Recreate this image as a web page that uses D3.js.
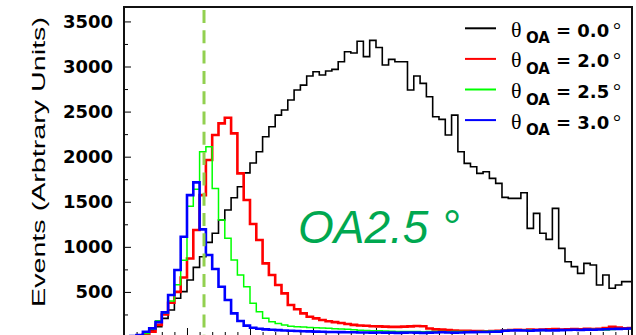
<!DOCTYPE html>
<html>
<head>
<meta charset="utf-8">
<script src="https://cdn.jsdelivr.net/npm/d3@7"></script>
<style>
  body { margin: 0; background: #fff; }
  svg { display: block; }
</style>
</head>
<body>
<svg width="636" height="335"></svg>
<script>
// histogram bins, 0.05 wide starting at 0
const binWidth = 0.05;

// events per bin for each off-axis angle
const oa00 = [0, 8, 20, 35, 70, 115, 207, 300, 429, 503,
  632, 772, 890, 1050, 1150, 1297, 1408, 1545, 1667, 1820,
  1930, 2055, 2221, 2332, 2461, 2517, 2628, 2739, 2794, 2894,
  2942, 2905, 2950, 2968, 3053, 3164, 3150, 3280, 3110, 3290,
  3210, 3016, 3079, 3053, 3053, 2739, 2894, 2813, 2665, 2443,
  2414, 2240, 2461, 2055, 1926, 1889, 1815, 1833, 1759, 1704,
  1549, 1537, 1537, 1600, 1205, 1371, 1150, 1083, 1427, 983,
  835, 780, 706, 817, 798, 577, 687, 540, 577, 614,
  614];
const oa20 = [0, 5, 15, 30, 60, 135, 250, 380, 500, 660,
  870, 1186, 1574, 1963, 2240, 2369, 2432, 2258, 1815, 1519,
  1253, 1075, 817, 687, 577, 484, 355, 307, 262, 225,
  207, 188, 175, 165, 155, 145, 135, 128, 125, 120,
  118, 115, 112, 112, 115, 118, 122, 120, 95, 85,
  82, 78, 72, 70, 68, 66, 65, 64, 66, 68,
  72, 78, 80, 78, 82, 80, 84, 86, 88, 84,
  86, 88, 85, 90, 88, 92, 98, 112, 104, 96,
  98];
const oa25 = [5, 10, 20, 40, 85, 180, 265, 400, 580, 850,
  1450, 1640, 2055, 2110, 1648, 1297, 1094, 854, 687, 558,
  373, 281, 207, 170, 150, 133, 120, 115, 110, 106,
  102, 100, 96, 92, 88, 85, 80, 76, 72, 70,
  68, 66, 64, 62, 62, 60, 60, 58, 60, 62,
  60, 58, 60, 62, 60, 58, 62, 64, 66, 68,
  72, 75, 74, 76, 78, 75, 72, 75, 78, 80,
  76, 74, 78, 80, 82, 80, 78, 82, 85, 86,
  88];
const oa30 = [5, 10, 22, 59, 96, 165, 273, 466, 743, 1112,
  1574, 1715, 1194, 909, 754, 558, 410, 262, 177, 126,
  103, 92, 85, 80, 76, 72, 70, 66, 64, 62,
  60, 58, 56, 55, 54, 52, 52, 50, 50, 48,
  50, 48, 48, 46, 48, 50, 48, 46, 48, 50,
  52, 50, 48, 50, 52, 54, 55, 56, 58, 60,
  70, 72, 74, 72, 70, 74, 76, 72, 74, 76,
  78, 80, 78, 82, 80, 84, 86, 88, 90, 92,
  94];

const angles = ['0.0', '2.0', '2.5', '3.0'];
const yTicks = [500, 1000, 1500, 2000, 2500, 3000, 3500];
const markerE = 0.635;   // dashed line, OA 2.5 deg peak
const note = 'OA2.5 \u00b0';

const series = [oa00, oa20, oa25, oa30];
const colors = ['#000000', '#ff0000', '#00ff00', '#0000ff'];
const widths = [1.6, 2.6, 1.5, 2.6];

const m = {left: 124, right: 632, top: 7, bottom: 337};
const x = d3.scaleLinear().domain([0, 4.032]).range([m.left, m.right]);
const y = d3.scaleLinear().domain([0, 3660]).range([m.bottom, m.top]);

const svg = d3.select('svg');

svg.append('defs').append('clipPath').attr('id', 'plot')
  .append('rect')
    .attr('x', m.left).attr('y', m.top)
    .attr('width', m.right - m.left).attr('height', m.bottom - m.top);

// axes ticks (inside the frame, ROOT style)
svg.append('g')
  .attr('transform', 'translate(' + m.left + ',0)')
  .call(d3.axisLeft(y).tickValues(d3.range(250, 3660, 500))
    .tickSizeInner(-4).tickSizeOuter(0).tickFormat(''))
  .call(g => g.select('.domain').remove());

const yAxis = svg.append('g')
  .attr('transform', 'translate(' + m.left + ',0)')
  .call(d3.axisLeft(y).tickValues(yTicks).tickFormat(d3.format('d'))
    .tickSizeInner(-7).tickSizeOuter(0).tickPadding(11))
  .call(g => g.select('.domain').remove());
yAxis.selectAll('text')
  .attr('font-family', 'DejaVu Sans')
  .attr('font-weight', 'bold')
  .attr('font-size', 18)
  .attr('fill', '#000');

svg.append('g')
  .attr('transform', 'translate(0,' + m.bottom + ')')
  .call(d3.axisBottom(x).tickValues(d3.range(0, 4.03, 0.1))
    .tickSizeInner(-5).tickSizeOuter(0).tickFormat(''))
  .call(g => g.select('.domain').remove());
svg.append('g')
  .attr('transform', 'translate(0,' + m.bottom + ')')
  .call(d3.axisBottom(x).tickValues(d3.range(0, 4.03, 0.5))
    .tickSizeInner(-9).tickSizeOuter(0).tickFormat(''))
  .call(g => g.select('.domain').remove());

svg.append('text')
  .attr('transform', 'translate(45,162) rotate(-90)')
  .attr('text-anchor', 'middle')
  .attr('font-family', 'Liberation Sans')
  .attr('font-size', 19)
  .attr('textLength', 290)
  .attr('lengthAdjust', 'spacingAndGlyphs')
  .text('Events (Arbtrary Units)');

// histograms
const step = d3.line().curve(d3.curveStepAfter)
  .x(d => x(d[0])).y(d => y(d[1]));

const hist = svg.append('g').attr('clip-path', 'url(#plot)');
series.forEach(function(vals, i) {
  const pts = vals.map((v, k) => [k * binWidth, v]);
  pts.push([vals.length * binWidth, vals[vals.length - 1]]);
  hist.append('path')
    .attr('d', step(pts))
    .attr('fill', 'none')
    .attr('stroke', colors[i])
    .attr('stroke-width', widths[i]);
});

svg.append('line')
  .attr('x1', x(markerE)).attr('x2', x(markerE))
  .attr('y1', 10).attr('y2', m.bottom)
  .attr('stroke', '#92d050')
  .attr('stroke-width', 3)
  .attr('stroke-dasharray', '13,7.3');

svg.append('text')
  .attr('x', 298).attr('y', 243)
  .attr('font-family', 'Liberation Sans')
  .attr('font-style', 'italic')
  .attr('font-size', 46)
  .attr('fill', '#00a850')
  .text(note);

// legend
const leg = svg.append('g');
angles.forEach(function(a, i) {
  const ly = 28.3 + 30.6 * i;
  leg.append('line')
    .attr('x1', 465).attr('x2', 496).attr('y1', ly).attr('y2', ly)
    .attr('stroke', colors[i]).attr('stroke-width', 2);
  const t = leg.append('text').attr('y', ly + 8.5).attr('fill', '#000');
  t.append('tspan').attr('x', 511)
    .attr('font-family', 'Liberation Serif').attr('font-size', 22)
    .text('\u03b8');
  t.append('tspan').attr('x', 526).attr('dy', 6.5)
    .attr('font-family', 'DejaVu Sans').attr('font-weight', 'bold').attr('font-size', 15)
    .text('OA');
  t.append('tspan').attr('x', 556).attr('dy', -6.5)
    .attr('font-family', 'DejaVu Sans').attr('font-weight', 'bold').attr('font-size', 18)
    .text('= ' + a);
  t.append('tspan').attr('x', 613)
    .attr('font-family', 'Liberation Serif').attr('font-size', 20)
    .text('\u00b0');
});

// frame
svg.append('rect')
  .attr('x', m.left).attr('y', m.top)
  .attr('width', m.right - m.left).attr('height', m.bottom - m.top + 5)
  .attr('fill', 'none')
  .attr('stroke', '#111')
  .attr('stroke-width', 2);
</script>
</body>
</html>
